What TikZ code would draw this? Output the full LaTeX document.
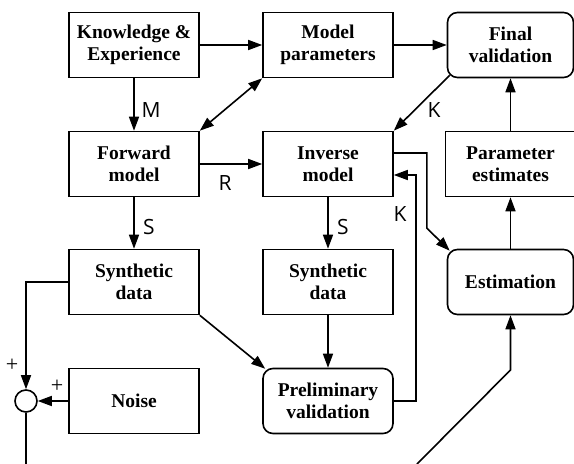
\documentclass[tikz,border=0pt]{standalone}
\usepackage{fontspec}
\setmainfont{Liberation Serif}
\newfontfamily\tagfont{Open Sans}
\usetikzlibrary{arrows.meta}

\tikzset{
  block/.style={draw, line width=1.6pt, minimum width=130pt, minimum height=65pt,
    inner sep=0pt, align=center, font=\fontsize{19.5}{21.5}\selectfont\bfseries},
  roundblock/.style={block, rounded corners=10pt, minimum width=126pt},
  link/.style={line width=1.6pt, -{Triangle[length=14pt,width=10pt]}},
  biglink/.style={line width=1.6pt, {Triangle[length=14pt,width=10pt]}-{Triangle[length=14pt,width=10pt]}},
  plain/.style={line width=1.6pt},
  tag/.style={inner sep=0pt, font=\fontsize{21}{21}\selectfont\tagfont},
  sign/.style={inner sep=0pt, font=\fontsize{22}{22}\selectfont}
}

\begin{document}
\begin{tikzpicture}[x=1pt, y=-1pt]
  \useasboundingbox (0,0) rectangle (574,464);

  % Define blocks
  \node[block] (KE) at (134,45) {Knowledge \&\\Experience};
  \node[block] (MP) at (328,45) {Model\\parameters};
  \node[roundblock] (FV) at (510.5,45) {Final\\validation};
  \node[block] (FM) at (134,164) {Forward\\model};
  \node[block] (IM) at (328,164) {Inverse\\model};
  \node[block] (PE) at (510.5,164) {Parameter\\estimates};
  \node[block] (SL) at (134,282) {Synthetic\\data};
  \node[block] (SM) at (328,282) {Synthetic\\data};
  \node[roundblock] (ES) at (510.5,282) {Estimation};
  \node[block] (NO) at (134,401) {Noise};
  \node[roundblock, minimum width=130pt] (PV) at (328,401) {Preliminary\\validation};
  \node[circle, draw, line width=1.6pt, minimum size=22pt, inner sep=0pt] (sum) at (26,401) {};

  % Free ends at the bottom edge
  \coordinate (out) at (26,464);
  \coordinate (in) at (417,464);
  \coordinate (bend) at (510.5,370);

  % Top row
  \draw[link] (KE) -- (MP);
  \draw[link] (MP) -- (FV);
  \draw[biglink] (MP.south west) -- (FM.north east);
  \draw[link] ([xshift=3pt,yshift=3pt]FV.south west) -- (IM.north east);

  % Forward and inverse models
  \draw[link] (KE) -- (FM);
  \draw[link] (FM) -- (IM);
  \draw[link] (FM) -- (SL);
  \draw[link] (IM) -- (SM);
  \draw[link] ([yshift=11pt]IM.east) -- ++(33,0) -- ++(0,75) -- ([xshift=3pt,yshift=-2pt]ES.north west);
  \draw[link] (PV.east) -- ++(22,0) |- ([yshift=-11pt]IM.east);

  % Estimation chain
  \draw[link] (ES) -- (PE);
  \draw[link] (PE) -- (FV);
  \draw[link] (in) -- (bend) -- (ES.south);

  % Synthetic data and noise
  \draw[link] (SM) -- (PV);
  \draw[link] (SL.south east) -- ([xshift=3pt,yshift=-1pt]PV.north west);
  \draw[link] (SL.west) -| (sum.north);
  \draw[link] (NO.west) -- (sum.east);
  \draw[plain] (sum.south) -- (out);

  % Labels
  \node[tag] (tM) at (151,110) {M};
  \node[tag] (tR) at (225,183) {R};
  \node[tag] (tS1) at (149,227) {S};
  \node[tag] (tS2) at (343,227) {S};
  \node[tag] (tK1) at (434,110) {K};
  \node[tag] (tK2) at (400,214) {K};
  \node[sign] (p1) at (12,365) {+};
  \node[sign] (p2) at (57,386) {+};
\end{tikzpicture}
\end{document}
